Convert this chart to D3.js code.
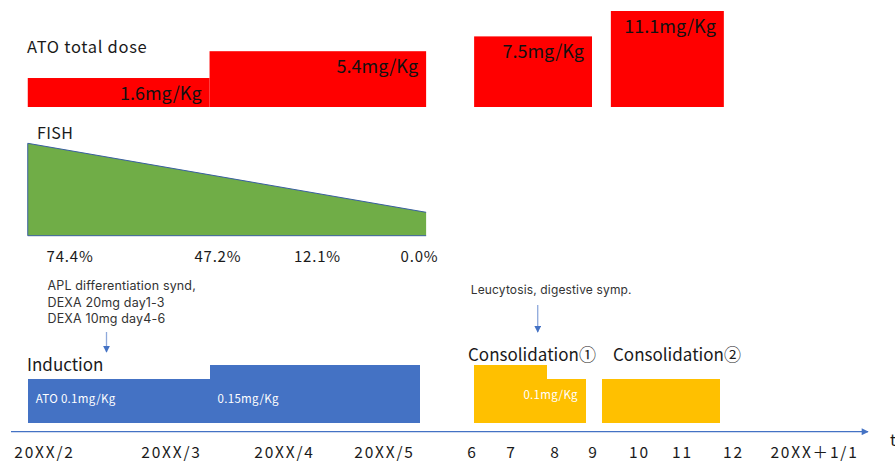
<!DOCTYPE html>
<html>
<head>
<meta charset="utf-8">
<script src="https://cdn.jsdelivr.net/npm/d3@7/dist/d3.min.js"></script>
<style>
  html, body { margin: 0; padding: 0; background: #fff; }
  svg { display: block; font-family: "Noto Sans CJK JP", "Noto Sans", sans-serif; }
</style>
</head>
<body>
<svg id="chart" width="895" height="462"></svg>
<script>
// Month ticks along the timeline (index 0 = 20XX/2)
const monthIndex = [0, 1, 2, 3, 4, 5, 6, 7, 8, 9, 10, 11];
const monthLabels = ["20XX/2", "20XX/3", "20XX/4", "20XX/5", "6", "7", "8", "9", "10", "11", "12", "20XX\uFF0B1/1"];

// Cumulative ATO dose (mg/Kg) per course, with start/end in month units
const totalDoseStart = [-0.12, 1.35, 4.08, 7.41];
const totalDoseEnd   = [1.35, 3.49, 7.0, 9.84];
const totalDoseValue = [1.6, 5.4, 7.5, 11.1];
const totalDoseLabel = ["1.6mg/Kg", "5.4mg/Kg", "7.5mg/Kg", "11.1mg/Kg"];

// FISH (PML-RARA positive rate, %)
const fishTimes  = [0.21, 1.42, 2.34, 3.41];
const fishValues = [74.4, 47.2, 12.1, 0.0];
const fishLabels = ["74.4%", "47.2%", "12.1%", "0.0%"];
const fishSpan   = [-0.12, 3.49];

// Daily ATO dose (mg/Kg) blocks
const dailyPhase = ["induction", "induction", "cons1", "cons1", "cons2"];
const dailyStart = [-0.12, 1.35, 4.08, 5.83, 7.22];
const dailyEnd   = [1.35, 3.42, 5.83, 6.84, 9.76];
const dailyValue = [0.1, 0.15, 0.15, 0.1, 0.1];
const dailyLabel = ["ATO 0.1mg/Kg", "0.15mg/Kg", "", "0.1mg/Kg", ""];

// Clinical events
const eventTimes = [0.5, 5.63];
const eventLines = [
  ["APL differentiation synd,", "DEXA 20mg day1-3", "DEXA 10mg day4-6"],
  ["Leucytosis, digestive symp."]
];

const colors = {
  red: "#FF0000", green: "#70AD47", blue: "#4472C4", yellow: "#FFC000",
  axis: "#4472C4", arrow: "#8EA9DB", text: "#1a1a1a"
};

const svg = d3.select("#chart");

// Piecewise time scale: the month ticks are laid out unevenly on the timeline
const x = d3.scaleLinear()
  .domain(monthIndex)
  .range([43, 170, 283, 383, 471, 510, 554, 592, 638, 681, 732, 813]);

// ---------- ATO total dose band ----------
const yTotal = d3.scaleLinear().domain([0, 11.1]).range([89.3, 11]);
const totalBase = 107;
const totals = totalDoseValue.map((v, i) => ({
  v, s: totalDoseStart[i], e: totalDoseEnd[i], label: totalDoseLabel[i]
}));

svg.append("g").selectAll("rect").data(totals).join("rect")
  .attr("x", d => x(d.s))
  .attr("width", d => x(d.e) - x(d.s))
  .attr("y", d => yTotal(d.v))
  .attr("height", d => totalBase - yTotal(d.v))
  .attr("fill", colors.red);

svg.append("g").selectAll("text").data(totals).join("text")
  .attr("x", d => x(d.e) - 8)
  .attr("y", d => yTotal(d.v) + 14)
  .attr("text-anchor", "end")
  .attr("dominant-baseline", "central")
  .attr("font-size", 18)
  .attr("fill", "#111")
  .text(d => d.label);

svg.append("text")
  .attr("x", 27).attr("y", 52.5)
  .attr("font-size", 16.5).attr("letter-spacing", 0.7).attr("fill", colors.text)
  .text("ATO total dose");

// ---------- FISH band ----------
const yFish = d3.scaleLinear().domain([0, 74.4]).range([212.3, 143.3]);
const fishBase = 235.7;
const fishTrend = [
  { t: fishSpan[0], v: fishValues[0] },
  { t: fishSpan[1], v: fishValues[fishValues.length - 1] }
];

svg.append("path")
  .datum(fishTrend)
  .attr("fill", colors.green)
  .attr("d", d3.area().x(d => x(d.t)).y0(fishBase).y1(d => yFish(d.v)));

// outline on the bottom, left and top edges
svg.append("path")
  .datum(fishTrend)
  .attr("fill", "none")
  .attr("stroke", "#3A5FA0")
  .attr("stroke-width", 1)
  .attr("d", d => d3.line()([
    [x(d[1].t), fishBase],
    [x(d[0].t), fishBase],
    [x(d[0].t), yFish(d[0].v)],
    [x(d[1].t), yFish(d[1].v)]
  ]));

svg.append("text")
  .attr("x", 37).attr("y", 139)
  .attr("font-size", 16).attr("letter-spacing", 0.4).attr("fill", colors.text)
  .text("FISH");

svg.append("g").selectAll("text").data(fishValues).join("text")
  .attr("x", (d, i) => x(fishTimes[i]) + 0.4)
  .attr("y", 261.7)
  .attr("text-anchor", "middle")
  .attr("font-size", 15).attr("letter-spacing", 0.8).attr("fill", colors.text)
  .text((d, i) => fishLabels[i]);

// ---------- Daily dose blocks ----------
const yDaily = d3.scaleLinear().domain([0.1, 0.15]).range([378.7, 364.8]);
const dailyBase = 423;
const daily = dailyValue.map((v, i) => ({
  v, s: dailyStart[i], e: dailyEnd[i], label: dailyLabel[i],
  fill: dailyPhase[i] === "induction" ? colors.blue : colors.yellow
}));

svg.append("g").selectAll("rect").data(daily).join("rect")
  .attr("x", d => x(d.s))
  .attr("width", d => x(d.e) - x(d.s))
  .attr("y", d => yDaily(d.v))
  .attr("height", d => dailyBase - yDaily(d.v))
  .attr("fill", d => d.fill)
  .attr("shape-rendering", "crispEdges");

svg.append("g").selectAll("text").data(daily.filter(d => d.label)).join("text")
  .attr("x", d => d.fill === colors.blue ? x(d.s) + 8 : x(d.e) - 8)
  .attr("y", d => d.fill === colors.blue ? 402.5 : 399.3)
  .attr("text-anchor", d => d.fill === colors.blue ? "start" : "end")
  .attr("font-size", 11.5)
  .attr("letter-spacing", 0.3)
  .attr("fill", "#fff")
  .text(d => d.label);

// phase titles
const phaseTitles = [
  { text: "Induction", x: 27, y: 371, size: 17 },
  { text: "Consolidation\u2460", x: 468, y: 361, size: 17 },
  { text: "Consolidation\u2461", x: 613, y: 361, size: 17 }
];
svg.append("g").selectAll("text").data(phaseTitles).join("text")
  .attr("x", d => d.x).attr("y", d => d.y)
  .attr("font-size", d => d.size)
  .attr("fill", colors.text)
  .text(d => d.text);

// ---------- Event notes with arrows ----------
const notes = [
  { t: eventTimes[0], lines: eventLines[0], dx: -59, y0: 290, size: 12.5, lh: 16.7, arrow: [332, 352] },
  { t: eventTimes[1], lines: eventLines[1], dx: -67, y0: 294, size: 12, lh: 16, arrow: [305, 332] }
];

const defs = svg.append("defs");
defs.append("marker")
  .attr("id", "headSmall")
  .attr("viewBox", "0 0 10 10")
  .attr("refX", 9).attr("refY", 5)
  .attr("markerWidth", 7).attr("markerHeight", 7)
  .attr("markerUnits", "userSpaceOnUse")
  .attr("orient", "auto")
  .append("path").attr("d", "M0,0L10,5L0,10Z").attr("fill", colors.axis);

const noteG = svg.append("g").selectAll("g").data(notes).join("g");
noteG.each(function (d) {
  const g = d3.select(this);
  g.selectAll("text").data(d.lines).join("text")
    .attr("x", x(d.t) + d.dx)
    .attr("y", (l, i) => d.y0 + i * d.lh)
    .attr("font-family", "Inter, Roboto, sans-serif")
    .attr("font-size", d.size)
    .attr("letter-spacing", 0.15)
    .attr("fill", "#333")
    .text(l => l);
  g.append("line")
    .attr("x1", x(d.t)).attr("x2", x(d.t))
    .attr("y1", d.arrow[0]).attr("y2", d.arrow[1])
    .attr("stroke", colors.arrow).attr("stroke-width", 1.3)
    .attr("marker-end", "url(#headSmall)");
});

// ---------- Time axis ----------
const axisY = 431.7;
defs.append("marker")
  .attr("id", "axisHead")
  .attr("viewBox", "0 0 10 10")
  .attr("refX", 9).attr("refY", 5)
  .attr("markerWidth", 8).attr("markerHeight", 7)
  .attr("markerUnits", "userSpaceOnUse")
  .attr("orient", "auto")
  .append("path").attr("d", "M0,0L10,5L0,10Z").attr("fill", colors.axis);

svg.append("line")
  .attr("x1", 11).attr("x2", 868)
  .attr("y1", axisY).attr("y2", axisY)
  .attr("stroke", colors.axis).attr("stroke-width", 1.2)
  .attr("marker-end", "url(#axisHead)");

const axis = d3.axisBottom(x)
  .tickValues(monthIndex)
  .tickFormat((d, i) => monthLabels[i])
  .tickSize(0);

const axisG = svg.append("g")
  .attr("transform", `translate(0,${axisY})`)
  .call(axis);
axisG.select(".domain").remove();
axisG.selectAll("text")
  .attr("x", 1)
  .attr("y", 26).attr("dy", 0)
  .attr("font-size", 15.5)
  .attr("letter-spacing", 1.8)
  .attr("font-family", "\"Noto Sans CJK JP\", sans-serif")
  .attr("fill", colors.text);

svg.append("text")
  .attr("x", 890).attr("y", 446)
  .attr("font-size", 16).attr("fill", colors.text)
  .text("t");
</script>
</body>
</html>
